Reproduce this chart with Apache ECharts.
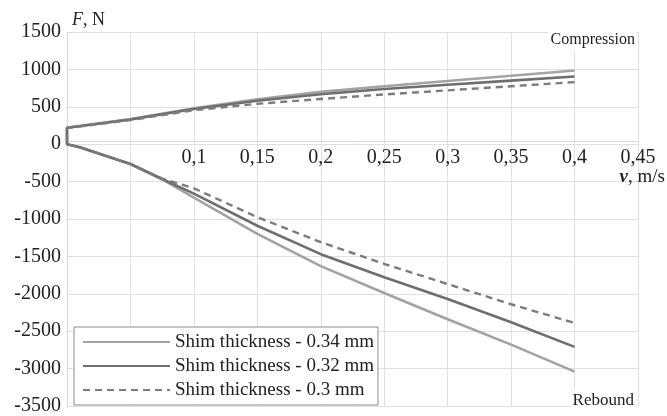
<!DOCTYPE html>
<html>
<head>
<meta charset="utf-8">
<script src="https://cdn.jsdelivr.net/npm/echarts@6/dist/echarts.min.js"></script>
<style>
  html, body { margin: 0; padding: 0; background: #fff; }
  #chart { width: 667px; height: 416px; }
</style>
</head>
<body>
<div id="chart"></div>
<script>
// velocity, m/s
var compVel = [0, 0, 0.05, 0.1, 0.15, 0.2, 0.25, 0.3, 0.35, 0.4];
var rebVel = [0, 0.01, 0.05, 0.075, 0.1, 0.15, 0.2, 0.25, 0.3, 0.35, 0.4];

// force, N - compression branch
var comp034 = [0, 220, 335, 480, 600, 700, 775, 845, 915, 985];
var comp032 = [0, 220, 330, 470, 580, 668, 738, 795, 850, 905];
var comp030 = [0, 215, 322, 455, 540, 605, 665, 720, 775, 830];

// force, N - rebound branch
var reb034 = [0, -40, -265, -470, -715, -1200, -1630, -1990, -2340, -2680, -3040];
var reb032 = [0, -40, -265, -465, -660, -1090, -1470, -1780, -2070, -2380, -2710];
var reb030 = [0, -40, -265, -460, -590, -975, -1310, -1600, -1870, -2140, -2390];

var names = ['Shim thickness - 0.34 mm', 'Shim thickness - 0.32 mm', 'Shim thickness - 0.3 mm'];
var yTicks = [-3500, 1500, 500];   // min, max, step
var xTicks = [0, 0.45, 0.05];

var serif = '"Liberation Serif", "DejaVu Serif", serif';
var gridTop = 32, gridBottom = 6, chartH = 416;

// one polyline per shim: compression from 0.4 back to 0, then rebound out to 0.4
function curve(comp, reb) {
    var pts = [];
    for (var i = compVel.length - 1; i >= 0; i--) {
        pts.push([compVel[i], comp[i]]);
    }
    for (var j = 1; j < rebVel.length; j++) {
        pts.push([rebVel[j], reb[j]]);
    }
    return pts;
}

// onZero does not take here, so lift the x axis up to F = 0 by hand
var plotH = chartH - gridTop - gridBottom;
var zeroOffset = -plotH * (0 - yTicks[0]) / (yTicks[1] - yTicks[0]);

var chart = echarts.init(document.getElementById('chart'));
var option = {
    animation: false,
    backgroundColor: '#fff',
    grid: {left: 67, right: 29, top: gridTop, bottom: gridBottom},
    legend: {
        orient: 'vertical',
        left: 74,
        top: 327,
        data: names,
        itemWidth: 87,
        itemHeight: 14,
        itemGap: 4,
        padding: [5, 4, 5, 8],
        backgroundColor: '#fff',
        borderColor: '#8c8c8c',
        borderWidth: 1,
        itemStyle: {opacity: 0},
        textStyle: {fontFamily: serif, fontSize: 19, color: '#222', lineHeight: 20}
    },
    xAxis: {
        type: 'value',
        min: xTicks[0],
        max: xTicks[1],
        interval: xTicks[2],
        position: 'bottom',
        offset: zeroOffset,
        axisLine: {onZero: false, lineStyle: {color: '#d9d9d9', width: 1}},
        axisTick: {show: false},
        splitLine: {show: true, lineStyle: {color: '#e0e0e0', width: 1}},
        axisLabel: {
            margin: 6,
            fontFamily: serif,
            fontSize: 20,
            color: '#222',
            showMinLabel: true,
            showMaxLabel: true,
            formatter: function(v) {
                if (v < 0.09) return '';
                return String(+v.toFixed(2)).replace('.', ',');
            }
        }
    },
    yAxis: {
        type: 'value',
        min: yTicks[0],
        max: yTicks[1],
        interval: yTicks[2],
        axisLine: {show: true, onZero: false, lineStyle: {color: '#d9d9d9', width: 1}},
        axisTick: {show: false},
        splitLine: {show: true, lineStyle: {color: '#e0e0e0', width: 1}},
        axisLabel: {
            margin: 6, fontFamily: serif, fontSize: 20, color: '#222',
            formatter: function(v) { return String(v); }
        }
    },
    graphic: [
        {
            type: 'text', left: 72, top: 11, z: 10,
            style: {
                text: '{i|F}, N',
                rich: {i: {fontStyle: 'italic', fontFamily: serif, fontSize: 18, fill: '#222'}},
                font: '18px ' + serif, fill: '#222'
            }
        },
        {
            type: 'text', x: 665, y: 177, z: 10,
            style: {
                text: '{i|v}, m/s',
                rich: {i: {fontStyle: 'italic', fontWeight: 'bold', fontFamily: serif, fontSize: 19, fill: '#222'}},
                font: '19px ' + serif, fill: '#222',
                align: 'right', verticalAlign: 'middle'
            }
        },
        {
            type: 'text', x: 636, y: 40, z: 10,
            style: {
                text: 'Compression', font: '16px ' + serif, fill: '#222',
                align: 'right', verticalAlign: 'middle',
                backgroundColor: '#fff', padding: [3, 1, 3, 2]
            }
        },
        {
            type: 'text', x: 635, y: 401, z: 10,
            style: {
                text: 'Rebound', font: '17px ' + serif, fill: '#222',
                align: 'right', verticalAlign: 'middle',
                backgroundColor: '#fff', padding: [3, 1, 3, 2]
            }
        }
    ],
    series: [
        {
            name: names[0], type: 'line', symbol: 'none',
            data: curve(comp034, reb034),
            lineStyle: {color: '#a3a3a3', width: 2.6},
            itemStyle: {color: '#a3a3a3'}
        },
        {
            name: names[1], type: 'line', symbol: 'none',
            data: curve(comp032, reb032),
            lineStyle: {color: '#6e6e6e', width: 2.6},
            itemStyle: {color: '#6e6e6e'}
        },
        {
            name: names[2], type: 'line', symbol: 'none',
            data: curve(comp030, reb030),
            lineStyle: {color: '#7c7c7c', width: 2.4, type: [7, 5]},
            itemStyle: {color: '#7c7c7c'}
        }
    ]
};
chart.setOption(option);
</script>
</body>
</html>
